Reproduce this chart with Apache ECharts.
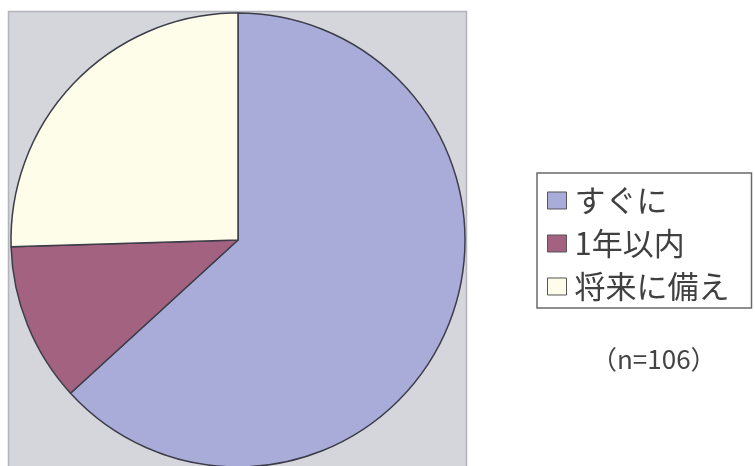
<!DOCTYPE html>
<html>
<head>
<meta charset="utf-8">
<script src="https://cdn.jsdelivr.net/npm/echarts@6/dist/echarts.min.js"></script>
<style>
html,body{margin:0;padding:0;background:#fff;}
#c{width:755px;height:466px;}
</style>
</head>
<body>
<div id="c"></div>
<script>
const categories = ['すぐに', '1年以内', '将来に備え'];
const values = [67, 12, 27];
const colors = ['#a9acd9', '#a3627f', '#fdfde9'];
const noteText = '（n=106）';

const chart = echarts.init(document.getElementById('c'), null, {renderer: 'canvas'});
chart.setOption({
  animation: false,
  backgroundColor: '#ffffff',
  graphic: [
    {
      type: 'rect', z: -10,
      shape: {x: 8.5, y: 11.5, width: 458, height: 460},
      style: {fill: '#d5d6dc', stroke: '#b4b5bb', lineWidth: 1.5}
    },
    {
      type: 'text', left: 591, top: 346,
      style: {text: noteText, font: '26px "Noto Sans CJK JP"', fill: '#444'}
    }
  ],
  legend: {
    orient: 'vertical',
    left: 537, top: 173,
    padding: [12, 22, 6, 10],
    itemGap: 12,
    itemWidth: 19, itemHeight: 17,
    backgroundColor: '#ffffff',
    borderColor: '#6a6a6a', borderWidth: 1.5,
    icon: 'rect',
    itemStyle: {borderColor: '#555', borderWidth: 1},
    textStyle: {fontFamily: 'Noto Sans CJK JP', fontSize: 31, lineHeight: 30, color: '#404040', padding: [0, 0, 0, 3]},
    data: categories
  },
  series: [{
    type: 'pie',
    center: [238, 240],
    radius: 227,
    startAngle: 90,
    clockwise: true,
    label: {show: false},
    labelLine: {show: false},
    emphasis: {disabled: true},
    itemStyle: {borderColor: '#3d3d4a', borderWidth: 1.5},
    data: categories.map((n, i) => ({name: n, value: values[i], itemStyle: {color: colors[i]}}))
  }]
});
</script>
</body>
</html>
